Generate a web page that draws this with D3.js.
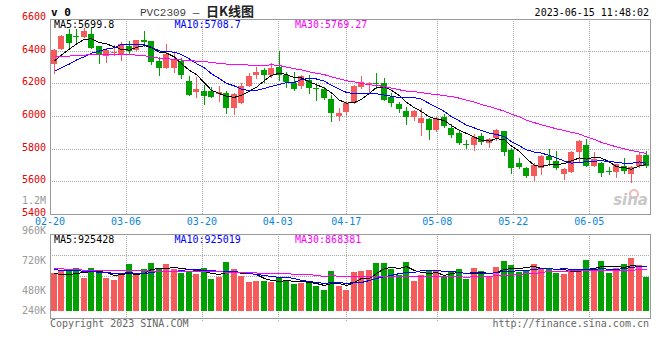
<!DOCTYPE html>
<html>
<head>
<meta charset="utf-8">
<title>PVC2309 日K线图</title>
<script src="https://cdn.jsdelivr.net/npm/d3@7"></script>
<style>
  body { margin: 0; background: #fff; }
  text { font-family: "DejaVu Sans Mono", monospace; font-size: 10px; }
</style>
</head>
<body>
<svg id="chart" width="660" height="360"></svg>
<script>
// trading days shown (MM-DD)
const dates = [
  "02-20","02-21","02-22","02-23","02-24","02-27","02-28",
  "03-01","03-02","03-03","03-06","03-07","03-08","03-09","03-10","03-13","03-14","03-15","03-16","03-17",
  "03-20","03-21","03-22","03-23","03-24","03-27","03-28","03-29","03-30","03-31",
  "04-03","04-04","04-06","04-07","04-10","04-11","04-12","04-13","04-14","04-17","04-18","04-19","04-20","04-21",
  "04-24","04-25","04-26","04-27","04-28",
  "05-04","05-05","05-08","05-09","05-10","05-11","05-12","05-15","05-16","05-17","05-18","05-19",
  "05-22","05-23","05-24","05-25","05-26","05-29","05-30","05-31",
  "06-01","06-02","06-05","06-06","06-07","06-08","06-09","06-12","06-13","06-14","06-15"
];
const tickDates = ["02-20","03-06","03-20","04-03","04-17","05-08","05-22","06-05"];

const open = [
  6318,6410,6502,6490,6486,6502,6431,6369,6392,6373,
  6431,6404,6465,6459,6339,6292,6296,6339,6214,6149,
  6153,6155,6135,6143,6051,6082,6186,6251,6282,6251,
  6302,6251,6200,6184,6220,6173,6163,6104,6000,6022,
  6078,6180,6190,6202,6200,6118,6073,6031,5996,5955,
  5982,5914,5992,5927,5898,5827,5822,5876,5837,5863,
  5908,5792,5714,5680,5635,5680,5755,5724,5647,5659,
  5778,5822,5696,5714,5665,5659,5696,5647,5696,5761
];
const high = [
  6410,6496,6533,6533,6537,6537,6431,6418,6437,6455,
  6459,6465,6522,6459,6363,6441,6394,6353,6245,6241,
  6190,6180,6184,6153,6139,6200,6265,6302,6296,6322,
  6398,6271,6271,6251,6251,6200,6180,6129,6047,6092,
  6190,6245,6210,6265,6235,6139,6084,6057,6037,6047,
  5986,5992,6010,5949,5908,5853,5888,5898,5863,5920,
  5908,5802,5741,5690,5710,5761,5798,5786,5680,5786,
  5853,5859,5782,5720,5690,5706,5745,5696,5778,5786
];
const low = [
  6261,6410,6418,6445,6482,6418,6327,6333,6373,6345,
  6378,6404,6431,6316,6251,6292,6271,6231,6129,6118,
  6073,6114,6092,6020,6010,6078,6186,6231,6210,6241,
  6220,6180,6159,6169,6139,6098,6104,5969,5976,6010,
  6078,6169,6139,6169,6098,6061,6022,5951,5976,5884,
  5859,5908,5933,5873,5829,5806,5792,5829,5812,5853,
  5761,5653,5680,5624,5608,5645,5700,5676,5614,5659,
  5720,5696,5696,5635,5643,5629,5649,5598,5690,5690
];
const close = [
  6404,6490,6449,6482,6522,6418,6378,6406,6394,6441,
  6398,6465,6455,6333,6296,6378,6343,6251,6129,6165,
  6124,6118,6149,6047,6135,6184,6245,6271,6251,6292,
  6251,6210,6165,6245,6173,6163,6108,6020,6020,6082,
  6184,6206,6204,6198,6098,6082,6043,5996,6031,5986,
  5914,5986,5939,5884,5837,5820,5873,5843,5859,5914,
  5782,5680,5686,5635,5700,5755,5731,5684,5676,5780,
  5847,5696,5735,5653,5661,5704,5665,5686,5761,5696
];
const volume = [
  795000,836000,865000,886000,691000,886000,851000,691000,643000,747000,
  975000,747000,871000,996000,886000,975000,865000,788000,815000,768000,
  886000,664000,705000,1017000,871000,726000,602000,622000,622000,608000,
  678000,643000,566000,581000,581000,525000,436000,830000,519000,436000,
  809000,830000,851000,996000,996000,871000,747000,1017000,622000,747000,
  830000,851000,726000,809000,871000,664000,892000,830000,705000,913000,
  1037000,954000,809000,851000,975000,892000,892000,788000,768000,851000,
  851000,1058000,892000,1037000,788000,892000,975000,1100000,954000,705000
];

// moving averages before enough bars are on screen
const ma5Head = [6337, 6373, 6410, 6441];
const ma10Head = [6275, 6296, 6318, 6343, 6363, 6384, 6398, 6410, 6418];
const ma30Head = [[0,6361],[2,6367],[4,6373],[6,6378],[8,6378],[10,6376],[12,6369],[14,6353],
                  [16,6347],[18,6339],[20,6333],[22,6322],[24,6314],[26,6312],[28,6309]];
const volMa5Head = [782000, 774000, 768000, 782000];
const volMa10Head = [865000, 857000, 851000, 844000, 836000, 830000, 815000, 803000, 788000];
const volMa30Head = [[0,886000],[5,857000],[10,844000],[15,836000],[20,830000],[25,815000]];

const priceTicks = [5400, 5600, 5800, 6000, 6200, 6400, 6600];
const volTicks = [240000, 480000, 720000, 960000, 1200000];

const legendPrice = ["MA5:5699.8", "MA10:5708.7", "MA30:5769.27"];
const legendVol = ["MA5:925428", "MA10:925019", "MA30:868381"];
const maColors = ["#000000", "#0000ff", "#ff00ff"];
const upColor = "#f65b5b", downColor = "#00a000";

const svg = d3.select("#chart");
const left = 50, right = 650;
const priceTop = 19, priceBottom = 214;
const volTop = 234, volBottom = 318, volBase = 311;

const x = d3.scaleBand().domain(d3.range(dates.length)).range([left, right])
  .paddingInner(0.2).paddingOuter(0.1);
const xGrid = d3.scalePoint().domain(d3.range(dates.length)).range([left, right]);
const cx = i => Math.round(x(i) + x.bandwidth() / 2) + 0.5;

const y = d3.scaleLinear().domain([5400, 6600]).range([priceBottom, 18]);
const yVol = d3.scaleLinear().domain([0, 1600000]).range([volBase, volTop]);
const yVolLabel = d3.scaleLinear().domain([0, 1200000]).range([351.5, 200]);

const px = v => Math.round(v) + 0.5;

// clip paths
const defs = svg.append("defs");
defs.append("clipPath").attr("id", "clipPrice").append("rect")
  .attr("x", left).attr("y", priceTop).attr("width", right - left).attr("height", priceBottom - priceTop);
defs.append("clipPath").attr("id", "clipVol").append("rect")
  .attr("x", left).attr("y", volTop).attr("width", right - left).attr("height", volBottom - volTop);

/// grids
const grid = svg.append("g").attr("stroke", "#aaa").attr("stroke-dasharray", "1,1")
  .attr("shape-rendering", "crispEdges");
grid.selectAll(".hp").data(priceTicks.slice(1, -1)).join("line")
  .attr("x1", left).attr("x2", right)
  .attr("y1", d => px(y(d))).attr("y2", d => px(y(d)));
grid.selectAll(".hv").data(d3.range(1, 4)).join("line")
  .attr("x1", left).attr("x2", right)
  .attr("y1", d => px(volTop + d * (volBottom - volTop) / 4))
  .attr("y2", d => px(volTop + d * (volBottom - volTop) / 4));
const tickIdx = tickDates.map(d => dates.indexOf(d));
grid.selectAll(".vp").data(tickIdx.slice(1)).join("line")
  .attr("x1", d => px(xGrid(d))).attr("x2", d => px(xGrid(d)))
  .attr("y1", priceTop).attr("y2", priceBottom);
grid.selectAll(".vv").data(tickIdx.slice(1)).join("line")
  .attr("x1", d => px(xGrid(d))).attr("x2", d => px(xGrid(d)))
  .attr("y1", volTop).attr("y2", volBottom + 3);

/// candles
const candles = svg.append("g").attr("clip-path", "url(#clipPrice)").attr("shape-rendering", "crispEdges");
const bars = candles.selectAll("g").data(d3.range(dates.length)).join("g")
  .attr("stroke", i => close[i] >= open[i] ? upColor : downColor)
  .attr("fill", i => close[i] >= open[i] ? upColor : downColor);
bars.append("line")
  .attr("x1", cx).attr("x2", cx)
  .attr("y1", i => Math.round(y(high[i]))).attr("y2", i => Math.round(y(low[i])) + 1);
bars.append("rect")
  .attr("stroke", "none")
  .attr("x", i => Math.round(x(i)))
  .attr("width", x.bandwidth())
  .attr("y", i => Math.round(y(Math.max(open[i], close[i]))))
  .attr("height", i => Math.max(1, Math.round(y(Math.min(open[i], close[i]))) - Math.round(y(Math.max(open[i], close[i])))));

/// moving averages
function maSeries(values, n, head) {
  const pts = [];
  if (typeof head[0] === "number") head.forEach((v, i) => pts.push([i, v]));
  else head.forEach(p => pts.push(p));
  for (let i = n - 1; i < values.length; i++) {
    pts.push([i, d3.mean(values.slice(i - n + 1, i + 1))]);
  }
  return pts;
}

const priceMa = [maSeries(close, 5, ma5Head), maSeries(close, 10, ma10Head), maSeries(close, 30, ma30Head)];
const priceLine = d3.line().x(d => cx(d[0])).y(d => y(d[1]));
svg.append("g").attr("clip-path", "url(#clipPrice)")
  .selectAll("path").data(priceMa).join("path")
  .attr("fill", "none").attr("stroke-width", 1).attr("shape-rendering", "crispEdges")
  .attr("stroke", (d, k) => maColors[k])
  .attr("d", priceLine);

/// volume bars
svg.append("g").attr("clip-path", "url(#clipVol)").attr("shape-rendering", "crispEdges")
  .selectAll("rect").data(d3.range(dates.length)).join("rect")
  .attr("fill", i => close[i] >= open[i] ? upColor : downColor)
  .attr("x", i => Math.round(x(i)))
  .attr("width", x.bandwidth())
  .attr("y", i => Math.round(yVol(volume[i])))
  .attr("height", i => volBase - Math.round(yVol(volume[i])));

const volMa = [maSeries(volume, 5, volMa5Head), maSeries(volume, 10, volMa10Head), maSeries(volume, 30, volMa30Head)];
const volLine = d3.line().x(d => cx(d[0])).y(d => Math.round(yVol(d[1])) + 0.5);
svg.append("g").attr("clip-path", "url(#clipVol)")
  .selectAll("path").data(volMa).join("path")
  .attr("fill", "none").attr("stroke-width", 1).attr("shape-rendering", "crispEdges")
  .attr("stroke", (d, k) => maColors[k])
  .attr("d", volLine);

/// frames
const frame = svg.append("g").attr("fill", "none").attr("stroke", "#999").attr("shape-rendering", "crispEdges");
frame.append("rect").attr("x", left + 0.5).attr("y", priceTop + 0.5)
  .attr("width", right - left).attr("height", priceBottom - priceTop);
frame.append("rect").attr("x", left + 0.5).attr("y", volTop + 0.5)
  .attr("width", right - left).attr("height", volBottom - volTop);

/// axis labels
svg.append("g").selectAll("text").data(priceTicks).join("text")
  .attr("x", 46).attr("y", d => y(d) - 1.5).attr("dy", "0.35em")
  .attr("text-anchor", "end").attr("fill", "#e00000")
  .text(d => d);

const fmtVol = v => v >= 1e6 ? (v / 1e6) + "M" : (v / 1e3) + "K";
svg.append("g").selectAll("text").data(volTicks).join("text")
  .attr("x", 46).attr("y", d => Math.min(yVolLabel(d), volBase - 0.5)).attr("dy", "0.35em")
  .attr("text-anchor", "end").attr("fill", "#999")
  .text(fmtVol);

svg.append("g").selectAll("text").data(tickIdx).join("text")
  .attr("x", d => xGrid(d)).attr("y", 221.5).attr("dy", "0.35em")
  .attr("text-anchor", "middle").attr("fill", "#0a86d8")
  .text(d => dates[d]);

/// legends
svg.append("g").selectAll("text").data(legendPrice).join("text")
  .attr("x", (d, k) => 54 + k * 120.5).attr("y", 24).attr("dy", "0.35em")
  .attr("fill", (d, k) => maColors[k]).text(d => d);
svg.append("g").selectAll("text").data(legendVol).join("text")
  .attr("x", (d, k) => 54 + k * 120.5).attr("y", 239).attr("dy", "0.35em")
  .attr("fill", (d, k) => maColors[k]).text(d => d);

/// header
svg.append("text").attr("x", 51).attr("y", 12).attr("dy", "0.35em")
  .style("font-size", "11px").style("font-weight", "bold").text("v 0");
const title = svg.append("text").attr("x", 140).attr("y", 12).attr("dy", "0.35em");
title.append("tspan").style("font-family", "'Liberation Mono', monospace").style("font-size", "11px")
  .attr("fill", "#444").text("PVC2309 \u2014 ");
title.append("tspan").style("font-family", "'Noto Sans CJK SC', sans-serif").style("font-size", "13px")
  .style("font-weight", "bold").attr("fill", "#222").text("日K线图");
svg.append("text").attr("x", 649).attr("y", 12).attr("dy", "0.35em")
  .attr("text-anchor", "end").attr("fill", "#000").text("2023-06-15 11:48:02");

/// footer
svg.append("text").attr("x", 50).attr("y", 323).attr("dy", "0.35em")
  .attr("fill", "#666").text("Copyright 2023 SINA.COM");
svg.append("text").attr("x", 649).attr("y", 323).attr("dy", "0.35em")
  .attr("text-anchor", "end").attr("fill", "#666").text("http://finance.sina.com.cn");

/// watermark
svg.append("circle").attr("cx", 634).attr("cy", 194).attr("r", 4)
  .attr("fill", "none").attr("stroke", "#f0b8b8").attr("stroke-width", 2);
svg.append("text").attr("x", 648).attr("y", 205).attr("text-anchor", "end")
  .style("font-family", "'DejaVu Sans', sans-serif").style("font-size", "15px")
  .style("font-style", "italic").style("font-weight", "bold")
  .attr("fill", "#c8c8c8").text("sina");
</script>
</body>
</html>
